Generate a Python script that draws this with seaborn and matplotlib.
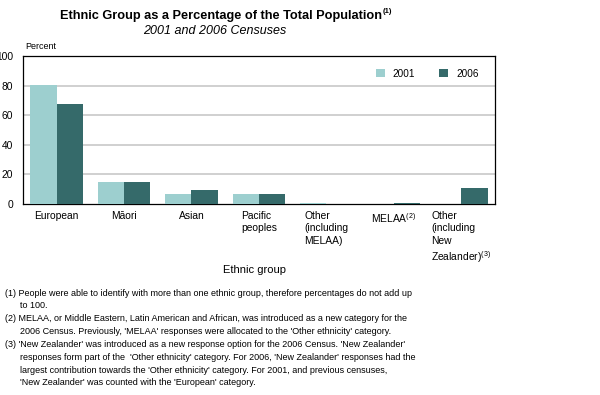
import numpy as np
import pandas as pd
import matplotlib
matplotlib.use("Agg")
import matplotlib.pyplot as plt
import seaborn as sns

# Data
groups = [
    "European",
    "Māori",
    "Asian",
    "Pacific\npeoples",
    "Other\n(including\nMELAA)",
    "MELAA$^{(2)}$",
    "Other\n(including\nNew\nZealander)$^{(3)}$",
]
years = ["2001", "2006"]
pct_2001 = [80.5, 14.7, 6.6, 6.5, 0.7, np.nan, np.nan]
pct_2006 = [67.6, 14.6, 9.2, 6.9, np.nan, 0.9, 11.1]

footnotes = [
    "(1) People were able to identify with more than one ethnic group, therefore percentages do not add up",
    "      to 100.",
    "(2) MELAA, or Middle Eastern, Latin American and African, was introduced as a new category for the",
    "      2006 Census. Previously, 'MELAA' responses were allocated to the 'Other ethnicity' category.",
    "(3) 'New Zealander' was introduced as a new response option for the 2006 Census. 'New Zealander'",
    "      responses form part of the  'Other ethnicity' category. For 2006, 'New Zealander' responses had the",
    "      largest contribution towards the 'Other ethnicity' category. For 2001, and previous censuses,",
    "      'New Zealander' was counted with the 'European' category.",
]

COLORS = {"2001": "#9dcfcf", "2006": "#356a6a"}

df = pd.DataFrame({
    "group": groups * 2,
    "year": [years[0]] * len(groups) + [years[1]] * len(groups),
    "pct": pct_2001 + pct_2006,
})

sns.set_style("white")
plt.rcParams["font.family"] = ["Liberation Sans", "DejaVu Sans"]
plt.rcParams["mathtext.fontset"] = "custom"
plt.rcParams["mathtext.rm"] = "Liberation Sans"
plt.rcParams["mathtext.it"] = "Liberation Sans:italic"
plt.rcParams["mathtext.bf"] = "Liberation Sans:bold"
plt.rcParams["text.color"] = "black"
plt.rcParams["xtick.color"] = "black"
plt.rcParams["ytick.color"] = "black"
plt.rcParams["axes.labelcolor"] = "black"

fig = plt.figure(figsize=(6, 3.95), dpi=100)
ax = fig.add_axes([0.038, 0.4835, 0.787, 0.3745])

sns.barplot(data=df, x="group", y="pct", hue="year", palette=COLORS,
            order=groups, hue_order=years, width=0.78, saturation=1,
            edgecolor="none", ax=ax, zorder=3)

ax.set_ylim(0, 100)
ax.set_yticks([0, 20, 40, 60, 80, 100])
ax.set_xlim(-0.5, len(groups) - 0.5)
for y in [20, 40, 60, 80]:
    ax.axhline(y, color="#c8c8c8", lw=1.2, zorder=1)

for s in ax.spines.values():
    s.set_color("black")
    s.set_linewidth(0.9)

ax.tick_params(axis="both", length=0, labelsize=7.4)
ax.tick_params(axis="y", pad=7)
ax.tick_params(axis="x", pad=5)
for lab in ax.get_xticklabels():
    lab.set_multialignment("left")
    lab.set_verticalalignment("top")
    lab.set_linespacing(1.3)

ax.set_xlabel("Ethnic group", fontsize=8)
ax.xaxis.set_label_coords(0.49, -0.41)
ax.set_ylabel("")

leg = ax.legend(ncol=2, frameon=False, loc="upper right",
                bbox_to_anchor=(0.985, 0.975), fontsize=7.2,
                handlelength=0.9, handleheight=0.8, columnspacing=2.4,
                handletextpad=0.8)

fig.text(0.042, 0.872, "Percent", fontsize=6.5, ha="left", va="bottom")

fig.text(0.368, 0.960, "Ethnic Group as a Percentage of the Total Population",
         fontsize=9.2, fontweight="bold", ha="center", va="center")
fig.text(0.637, 0.972, "(1)", fontsize=5.5, fontweight="bold", ha="left", va="center")
fig.text(0.358, 0.921, "2001 and 2006 Censuses", fontsize=9, style="italic",
         ha="center", va="center")

y0 = 0.258
for i, line in enumerate(footnotes):
    fig.text(0.008, y0 - i * 0.0325, line, fontsize=6.5, ha="left", va="center")

fig.savefig("out.png", dpi=100)
